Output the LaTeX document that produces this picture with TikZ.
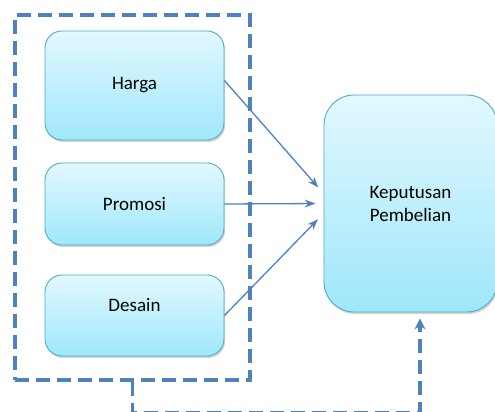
\documentclass[tikz,border=0pt]{standalone}
\usepackage{fontspec}
\setmainfont{Carlito}
\usetikzlibrary{shadows,arrows.meta}

\definecolor{linkblue}{HTML}{4F81BD}
\definecolor{boxedge}{HTML}{4BACC6}
\definecolor{boxtop}{HTML}{E2F8FE}
\definecolor{boxbottom}{HTML}{9FE7FB}

\tikzset{
  factor/.style={draw=boxedge, line width=0.9pt, rounded corners=17pt,
    top color=boxtop, bottom color=boxbottom,
    drop shadow={shadow xshift=1.2pt, shadow yshift=-2pt, opacity=0.35},
    minimum width=179pt, align=center,
    font=\fontsize{19}{23}\selectfont},
  group/.style={draw=linkblue, line width=3.4pt, dash pattern=on 14pt off 7pt},
  link/.style={draw=linkblue, line width=1.3pt, -{Stealth[length=11pt,width=8pt]}},
  feedback/.style={draw=linkblue, line width=3.4pt, dash pattern=on 14pt off 7pt,
    -{Stealth[length=11pt,width=11pt]}}
}

\begin{document}
\begin{tikzpicture}[x=1pt,y=1pt]

% Frame of the picture
\useasboundingbox (0,0) rectangle (495,412);
\clip (0,0) rectangle (495,412);

% Dashed group round the three factors
\node[group, minimum width=235pt, minimum height=365pt] (grp) at (132.5,214.5) {};

% The three factors
\node[factor, minimum height=109pt] (harga) at (134.5,326.5) {Harga};
\node[factor, minimum height=82pt] (promosi) at (134.5,208) {Promosi};
\node[factor, minimum height=81pt, text depth=22pt] (desain) at (134.5,96.5) {Desain};

% Decision box
\node[factor, rounded corners=30pt, minimum width=173pt, minimum height=217pt]
  (keputusan) at (410.5,208.5) {Keputusan\\Pembelian};

% Arrows into the decision
\draw[link, shorten >=8pt] ([yshift=5pt]harga.east) -- ([yshift=10pt]keputusan.west);
\draw[link, shorten >=8pt] (promosi.east) -- (keputusan.west);
\draw[link, shorten >=8pt] (desain.east) -- ([yshift=-10pt]keputusan.west);

% Feedback from the group
\coordinate (fb) at ([xshift=9.5pt]keputusan.south);
\draw[feedback, shorten >=6pt] (grp.south) -- ++(0,-31) -| (fb);

\end{tikzpicture}
\end{document}
